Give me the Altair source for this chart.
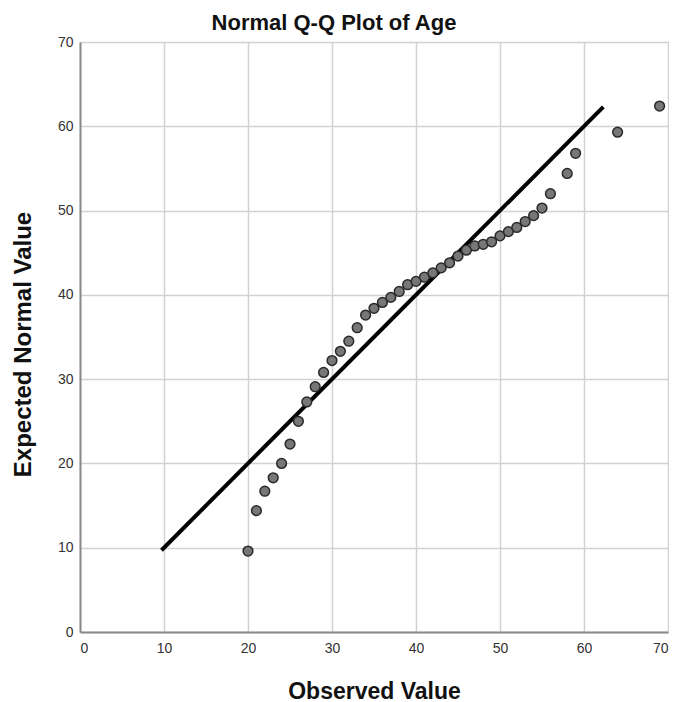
import altair as alt
import pandas as pd

observed = [20, 21, 22, 23, 24, 25, 26, 27, 28, 29, 30, 31, 32, 33, 34, 35, 36, 37, 38, 39,
            40, 41, 42, 43, 44, 45, 46, 47, 48, 49, 50, 51, 52, 53, 54, 55, 56, 58, 59, 64, 69]
expected = [9.6, 14.4, 16.7, 18.3, 20.0, 22.3, 25.0, 27.3, 29.1, 30.8, 32.2, 33.3, 34.5, 36.1,
            37.6, 38.4, 39.1, 39.7, 40.4, 41.2, 41.6, 42.1, 42.6, 43.2, 43.8, 44.6, 45.3, 45.8,
            46.0, 46.3, 47.0, 47.5, 48.0, 48.7, 49.4, 50.3, 52.0, 54.4, 56.8, 59.3, 62.4]
ref_line_x = [9.7, 62.3]
ref_line_y = [9.7, 62.3]
axis_ticks = [0, 10, 20, 30, 40, 50, 60, 70]

pts = pd.DataFrame({"obs": observed, "exp": expected})
ln = pd.DataFrame({"obs": ref_line_x, "exp": ref_line_y})

FONT = "Liberation Sans"

xax = alt.Axis(values=axis_ticks, ticks=False, grid=True, gridColor="#d2d2d2", gridWidth=1.5,
               domainColor="#8a8a8a", domainWidth=2, labelFont=FONT, labelFontSize=14,
               labelColor="#333333", labelPadding=9, title="Observed Value", titleFont=FONT,
               titleFontSize=23, titleFontWeight="bold", titleColor="#111111",
               titleY=66, titleBaseline="alphabetic")
yax = alt.Axis(values=axis_ticks, ticks=False, grid=True, gridColor="#d2d2d2", gridWidth=1.5,
               domainColor="#8a8a8a", domainWidth=2, labelFont=FONT, labelFontSize=14,
               labelColor="#333333", labelPadding=7, title="Expected Normal Value", titleFont=FONT,
               titleFontSize=24, titleFontWeight="bold", titleColor="#111111",
               titleX=-50, titleY=302, titleAngle=-90, titleAlign="center",
               titleBaseline="alphabetic")

xs = alt.Scale(domain=[0, 70], nice=False, zero=False)
ys = alt.Scale(domain=[0, 70], nice=False, zero=False)

line = alt.Chart(ln).mark_line(color="black", strokeWidth=4, strokeCap="butt").encode(
    x=alt.X("obs:Q", scale=xs, axis=xax),
    y=alt.Y("exp:Q", scale=ys, axis=yax),
)
points = alt.Chart(pts).mark_point(filled=True, fill="#777777", stroke="#2a2a2a",
                                   strokeWidth=1.5, size=95, opacity=1, fillOpacity=1).encode(
    x=alt.X("obs:Q", scale=xs),
    y=alt.Y("exp:Q", scale=ys),
)

chart = alt.layer(line, points).properties(
    width=588, height=590,
    title=alt.TitleParams("Normal Q-Q Plot of Age", font=FONT, fontSize=22, fontWeight="bold",
                          color="#111111", anchor="middle", dx=-40, dy=11, offset=11),
    autosize=alt.AutoSizeParams(type="none"),
    padding={"left": 72, "top": 34, "right": 1, "bottom": 76},
).configure_view(stroke=None).configure(background="white")

chart.save("out.html", embed_options={"renderer": "svg", "actions": False})
